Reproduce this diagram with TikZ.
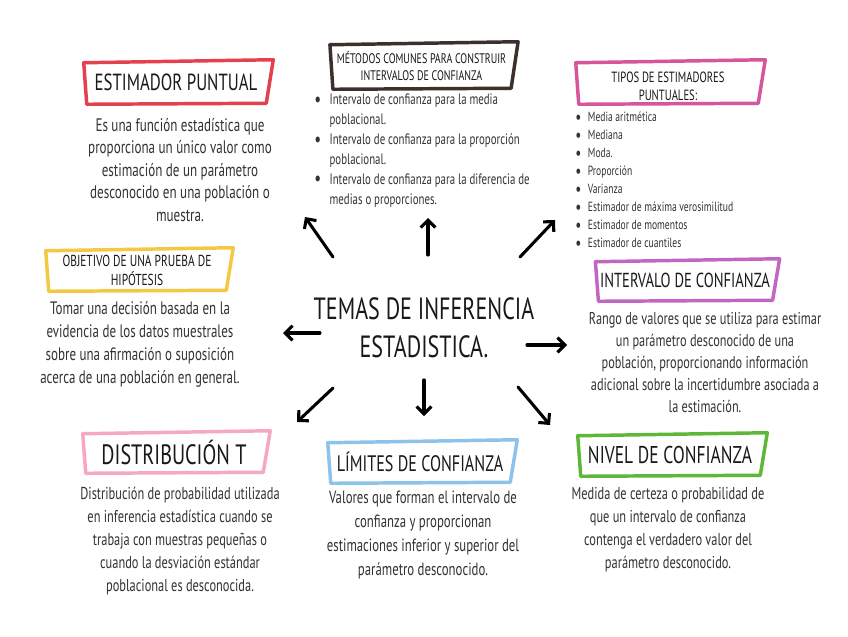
\documentclass[tikz,border=0pt]{standalone}
\usepackage{fontspec}
\setmainfont[FakeStretch=0.72]{PT Sans}
\usetikzlibrary{arrows.meta}
\definecolor{cRed}{HTML}{E5404E}
\definecolor{cDark}{HTML}{3B302C}
\definecolor{cPink}{HTML}{D6559B}
\definecolor{cYellow}{HTML}{F5C842}
\definecolor{cPurple}{HTML}{C266C4}
\definecolor{cLPink}{HTML}{F6A8C1}
\definecolor{cBlue}{HTML}{8DC3EA}
\definecolor{cGreen}{HTML}{5DB83A}
\definecolor{txt}{HTML}{333333}
\newcommand{\fs}[2]{\fontsize{#1}{#2}\selectfont}
\newcommand{\blt}{\makebox[11.5pt][l]{\raisebox{-0.1em}{\scalebox{1.4}{\textbullet}}}}
\newcommand{\nob}{\hspace*{11.5pt}}
\newcommand{\sblt}{\makebox[9.5pt][l]{\raisebox{-0.1em}{\scalebox{1.4}{\textbullet}}}}
\newcommand{\handframe}[3][0]{\draw[frame,#3] ([shift={(0,1+#1)}]#2.north west) -- ([shift={(5,-2+#1)}]#2.north east) -- ([shift={(-2,0+#1)}]#2.south east) -- ([shift={(3,1+#1)}]#2.south west) -- cycle;}
\begin{document}
\begin{tikzpicture}[x=0.75pt,y=-0.75pt,
 frame/.style={line width=2.6pt,line join=round,line cap=round},
 ttl/.style={inner sep=0pt,text=black!90,align=center},
 desc/.style={inner sep=0pt,text=txt,align=center,anchor=north},
 lst/.style={inner sep=0pt,text=txt,align=left,anchor=north west},
 arr/.style={line width=2.3pt,line cap=round,-{Straight Barb[length=5.5pt,width=11pt]}}]
\fill[white] (0,0) rectangle (848,636);
\path[use as bounding box] (0,0) rectangle (848,636);

% boxes
\node[ttl,minimum width=138pt,minimum height=30.75pt,font=\fs{17.5pt}{20pt}] (ep) at (176,82.5) {ESTIMADOR PUNTUAL};
\handframe{ep}{cRed}
\node[ttl,minimum width=137pt,minimum height=33pt,font=\fs{10.4pt}{12.75pt}] (mc) at (421.5,66) {MÉTODOS COMUNES PARA CONSTRUIR\\INTERVALOS DE CONFIANZA};
\handframe{mc}{cDark}
\node[ttl,minimum width=138pt,minimum height=30.75pt,font=\fs{11.1pt}{13.5pt}] (te) at (668,86) {TIPOS DE ESTIMADORES\\PUNTUALES:};
\handframe[-3.5]{te}{cPink}
\node[ttl,minimum width=136.5pt,minimum height=30pt,font=\fs{11.9pt}{14.25pt}] (ob) at (137,270) {OBJETIVO DE UNA PRUEBA DE\\HIPÓTESIS};
\handframe{ob}{cYellow}
\node[ttl,minimum width=134pt,minimum height=29.25pt,font=\fs{15.2pt}{17pt}] (ic) at (685,280.5) {INTERVALO DE CONFIANZA};
\handframe{ic}{cPurple}
\node[ttl,minimum width=136.5pt,minimum height=29.25pt,font=\fs{21pt}{23pt}] (dt) at (174,452.5) {DISTRIBUCIÓN T};
\handframe{dt}{cLPink}
\node[ttl,minimum width=138pt,minimum height=30pt,font=\fs{16.8pt}{19pt}] (lc) at (420,462) {LÍMITES DE CONFIANZA};
\handframe{lc}{cBlue}
\node[ttl,minimum width=138pt,minimum height=30pt,font=\fs{18.2pt}{20pt}] (nc) at (670,455) {NIVEL DE CONFIANZA};
\handframe{nc}{cGreen}

% descriptions
\node[desc,font=\fs{13.6pt}{16.9pt}] (epd) at (180,118) {Es una función estadística que\\proporciona un único valor como\\estimación de un parámetro\\desconocido en una población o\\muestra.};
\node[lst,font=\fs{11.3pt}{14.9pt}] (mcl) at (314,94) {\blt Intervalo de confianza para la media\\\nob poblacional.\\\blt Intervalo de confianza para la proporción\\\nob poblacional.\\\blt Intervalo de confianza para la diferencia de\\\nob medias o proporciones.};
\node[lst,font=\fs{10pt}{13.5pt}] (tel) at (575,112) {\sblt Media aritmética\\\sblt Mediana\\\sblt Moda.\\\sblt Proporción\\\sblt Varianza\\\sblt Estimador de máxima verosimilitud\\\sblt Estimador de momentos\\\sblt Estimador de cuantiles};
\node[desc,font=\fs{13.5pt}{17.25pt}] (obd) at (140,301) {Tomar una decisión basada en la\\evidencia de los datos muestrales\\sobre una afirmación o suposición\\acerca de una población en general.};
\node[desc,font=\fs{12.8pt}{16.5pt}] (icd) at (705,312) {Rango de valores que se utiliza para estimar\\un parámetro desconocido de una\\población, proporcionando información\\adicional sobre la incertidumbre asociada a\\la estimación.};
\node[desc,font=\fs{12.9pt}{17.25pt}] (dtd) at (180,487) {Distribución de probabilidad utilizada\\en inferencia estadística cuando se\\trabaja con muestras pequeñas o\\cuando la desviación estándar\\poblacional es desconocida.};
\node[desc,font=\fs{13.3pt}{18pt}] (lcd) at (423,491) {Valores que forman el intervalo de\\confianza y proporcionan\\estimaciones inferior y superior del\\parámetro desconocido.};
\node[desc,font=\fs{12.9pt}{17.25pt}] (ncd) at (668,487) {Medida de certeza o probabilidad de\\que un intervalo de confianza\\contenga el verdadero valor del\\parámetro desconocido.};

% center
\node[ttl,font=\fs{23pt}{28.5pt}] (c) at (424,328) {TEMAS DE INFERENCIA\\ESTADISTICA.};

% arrows
\coordinate (s1) at (333,257); \coordinate (e1) at (305,217);
\coordinate (s2) at (428,255); \coordinate (e2) at (428,218);
\coordinate (s3) at (520,257); \coordinate (e3) at (555,220);
\coordinate (s4) at (320,333); \coordinate (e4) at (283,333);
\coordinate (s5) at (527,345); \coordinate (e5) at (567,345);
\coordinate (s6) at (333,388); \coordinate (e6) at (297,422);
\coordinate (s7) at (424,380); \coordinate (e7) at (424,416);
\coordinate (s8) at (518,387); \coordinate (e8) at (550,425);
\foreach \i in {1,...,8} {\draw[arr] (s\i) -- (e\i);}
\end{tikzpicture}
\end{document}
